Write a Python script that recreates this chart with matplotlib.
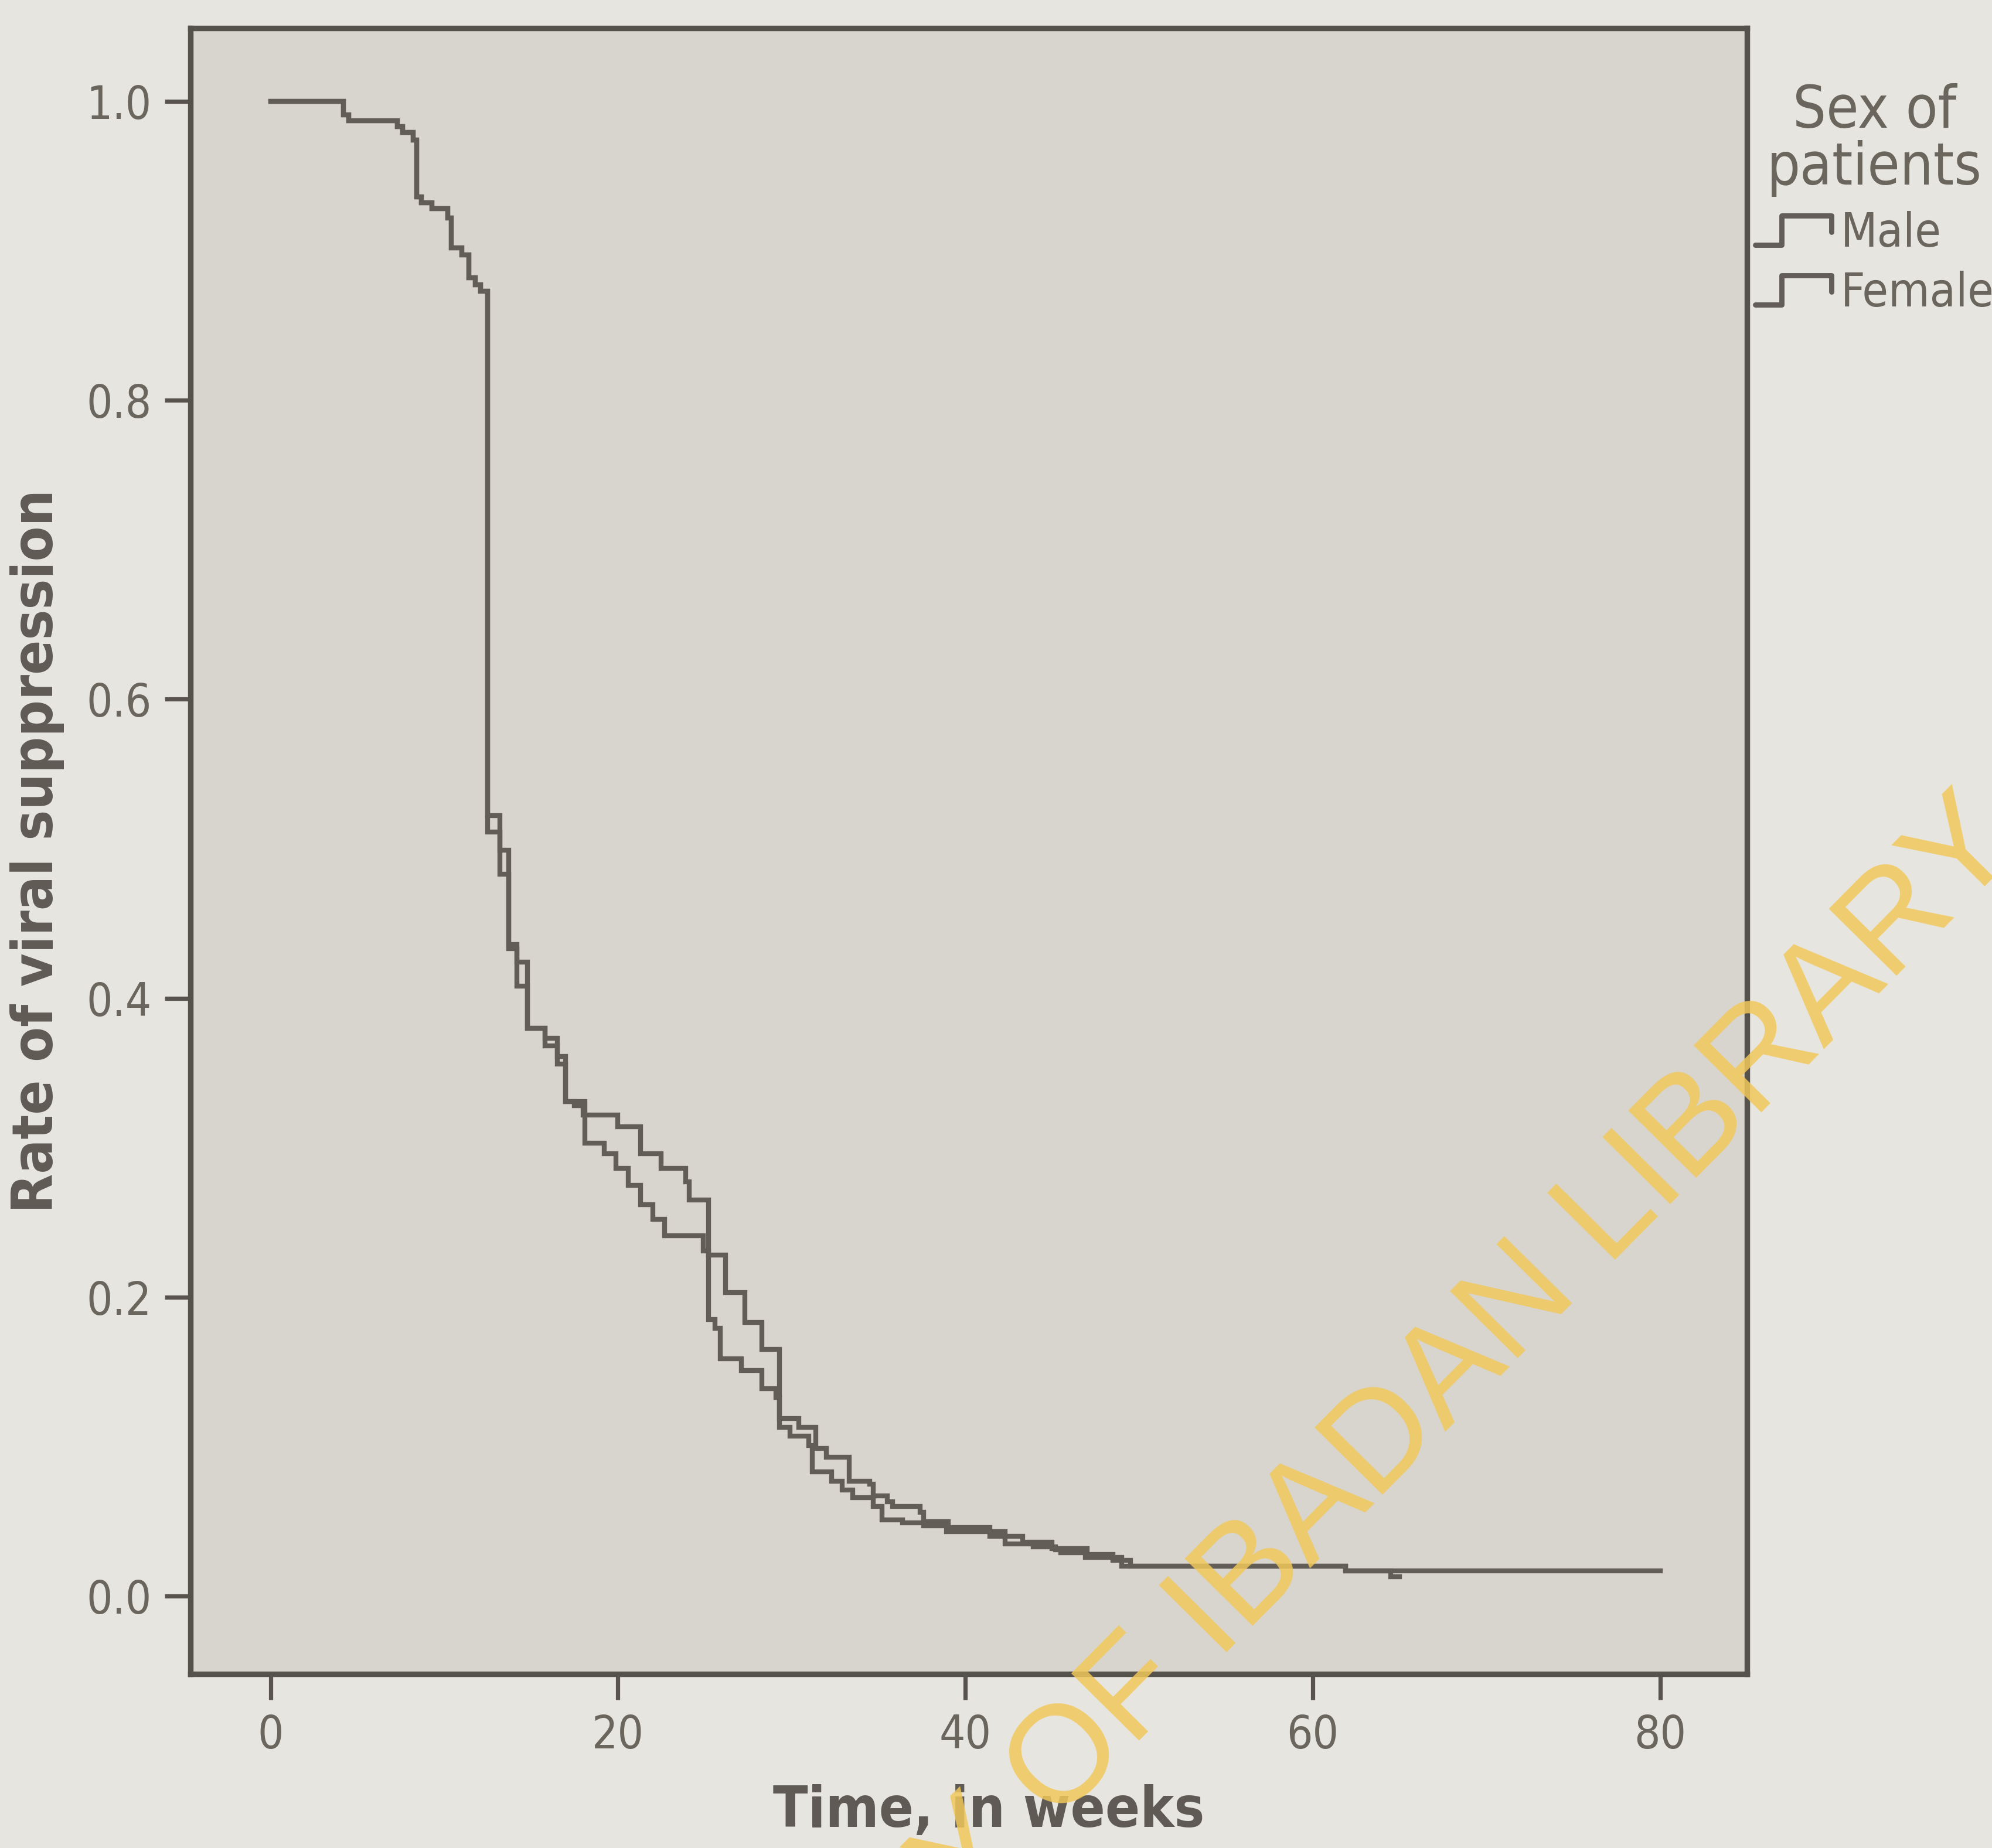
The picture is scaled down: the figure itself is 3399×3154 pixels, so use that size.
import numpy as np
import matplotlib
matplotlib.use("Agg")
import matplotlib.pyplot as plt
from matplotlib import font_manager as fm
from matplotlib.lines import Line2D
from matplotlib.legend_handler import HandlerLine2D

# Kaplan-Meier step data (weeks, proportion still unsuppressed)
male_t = [0, 4.2, 4.5, 7.3, 7.6, 8.2, 8.4, 8.7, 9.3, 10.2, 10.4, 11.0, 11.4, 11.8, 12.1,
          12.5, 13.2, 13.7, 14.2, 14.8, 15.8, 16.5, 17.0, 17.5, 18.0, 20.0, 21.3, 22.5,
          23.9, 24.1, 25.2, 25.6, 25.9, 27.1, 28.3, 29.1, 29.3, 30.4, 31.4, 32.0, 33.3,
          34.5, 34.7, 35.5, 35.8, 37.4, 37.6, 39.0, 41.4, 43.3, 45.0, 47.0, 48.5, 49.5,
          61.9, 80.0]
male_s = [1.0, 0.991, 0.987, 0.983, 0.979, 0.974, 0.936, 0.932, 0.928, 0.922, 0.902, 0.897,
          0.882, 0.877, 0.873, 0.522, 0.499, 0.436, 0.424, 0.380, 0.373, 0.361, 0.331, 0.328,
          0.322, 0.314, 0.296, 0.286, 0.277, 0.265, 0.185, 0.179, 0.159, 0.151, 0.139, 0.133,
          0.119, 0.113, 0.099, 0.093, 0.077, 0.075, 0.067, 0.063, 0.060, 0.056, 0.050, 0.046,
          0.040, 0.036, 0.032, 0.028, 0.024, 0.020, 0.017, 0.017]

female_t = [0, 4.2, 4.5, 7.3, 7.6, 8.2, 8.4, 8.7, 9.3, 10.2, 10.4, 11.0, 11.4, 11.8, 12.1,
            12.5, 13.2, 13.7, 14.2, 14.8, 15.8, 16.5, 17.0, 18.1, 19.2, 19.9, 20.6, 21.3,
            22.0, 22.7, 24.9, 25.2, 26.2, 27.3, 28.3, 29.3, 29.9, 31.0, 31.2, 32.3, 32.9,
            33.5, 34.7, 35.2, 36.4, 37.6, 38.9, 42.3, 43.9, 45.2, 45.5, 46.9, 49.0, 61.9,
            64.5, 65.0]
female_s = [1.0, 0.991, 0.987, 0.983, 0.979, 0.974, 0.936, 0.932, 0.928, 0.922, 0.902, 0.897,
            0.882, 0.877, 0.873, 0.511, 0.483, 0.433, 0.408, 0.380, 0.368, 0.356, 0.331, 0.303,
            0.296, 0.286, 0.275, 0.262, 0.252, 0.241, 0.231, 0.228, 0.203, 0.183, 0.165, 0.113,
            0.107, 0.101, 0.083, 0.077, 0.071, 0.066, 0.060, 0.051, 0.049, 0.047, 0.043, 0.035,
            0.033, 0.031, 0.029, 0.026, 0.020, 0.017, 0.013, 0.013]

groups = ["Male", "Female"]
x_ticks = [0, 20, 40, 60, 80]
y_ticks = [0.0, 0.2, 0.4, 0.6, 0.8, 1.0]

INK = "#625e57"
TXT = "#6a655d"


def pick_narrow():
    # SPSS output uses a condensed face; take whatever narrow sans is installed
    for fam, stretch in (("Liberation Sans Narrow", "normal"), ("DejaVu Sans", "condensed")):
        try:
            path = fm.findfont(fm.FontProperties(family=fam, stretch=stretch),
                               fallback_to_default=False)
        except Exception:
            continue
        if "Narrow" in path or "Condensed" in path:
            return fam, stretch, 1.0
    return "DejaVu Sans", "normal", 0.8


FAM, STRETCH, SCALE = pick_narrow()
FONT = dict(family=[FAM, "DejaVu Sans"], stretch=STRETCH)


class StepHandler(HandlerLine2D):
    """Draws the little SPSS-style step glyph in the legend."""

    def create_artists(self, legend, orig_handle, xdescent, ydescent, width, height,
                       fontsize, trans):
        xs = np.array([0.0, 0.33, 0.33, 0.95, 0.95]) * width - xdescent
        ys = np.array([0.05, 0.05, 0.95, 0.95, 0.45]) * height - ydescent
        ln = Line2D(xs, ys, color=orig_handle.get_color(), lw=orig_handle.get_linewidth(),
                    solid_capstyle="round", solid_joinstyle="round", transform=trans)
        return [ln]


fig = plt.figure(figsize=(16.995, 15.77), dpi=200, facecolor="#e7e5df")
ax = fig.add_axes([0.0957, 0.0942, 0.7813, 0.8907], facecolor="#d8d5ce")

handles = []
for t, s, name in ((male_t, male_s, groups[0]), (female_t, female_s, groups[1])):
    ax.step(t, s, where="post", color=INK, lw=3.0, solid_joinstyle="miter")
    handles.append(Line2D([], [], color=INK, lw=3.2, label=name))

ax.set_xlim(-4.6, 85)
ax.set_ylim(-0.052, 1.049)
ax.set_xticks(x_ticks)
ax.set_xticklabels([str(v) for v in x_ticks])
ax.set_yticks(y_ticks)
ax.set_yticklabels([f"{v:.1f}" for v in y_ticks])
ax.tick_params(direction="out", length=16, width=2.6, color="#58544d", labelcolor=TXT,
               pad=8)
for lab in ax.get_xticklabels() + ax.get_yticklabels():
    lab.set_fontproperties(fm.FontProperties(size=28 * SCALE, weight="medium", **FONT))

for sp in ax.spines.values():
    sp.set_linewidth(3.4)
    sp.set_color("#55514b")

ax.set_xlabel("Time, in weeks", fontsize=35 * SCALE, fontweight="bold", color="#5f5a53",
              **FONT)
ax.set_ylabel("Rate of viral suppression", fontsize=35 * SCALE, fontweight="bold",
              color="#5f5a53", **FONT)
ax.xaxis.set_label_coords(0.513, -0.067)
ax.yaxis.set_label_coords(-0.081, 0.5)

leg = fig.legend(handles=handles, loc="upper left", bbox_to_anchor=(0.881, 0.955),
                 frameon=False, title="Sex of\npatients", handlelength=1.7,
                 handletextpad=0.12, labelspacing=0.3, borderpad=0, borderaxespad=0,
                 prop=fm.FontProperties(size=29 * SCALE, **FONT),
                 title_fontproperties=fm.FontProperties(size=36 * SCALE, **FONT),
                 handler_map={Line2D: StepHandler()})
leg.get_title().set_color(TXT)
leg.get_title().set_multialignment("center")
leg.get_title().set_linespacing(1.0)
for txt in leg.get_texts():
    txt.set_color(TXT)

# library watermark running diagonally across the lower right
wm = dict(fontsize=85, color="#f1c85a", alpha=0.85, rotation=45.3, rotation_mode="anchor",
          va="baseline", family=["Liberation Sans", "DejaVu Sans"], zorder=10)
fig.text(0.530, 0.0124, "OF IBADAN LIBRARY", ha="left", **wm)
fig.text(0.530, 0.0124, "UNIVERSITY ", ha="right", **wm)

fig.savefig("out.png", dpi=200, facecolor=fig.get_facecolor())
plt.close(fig)
